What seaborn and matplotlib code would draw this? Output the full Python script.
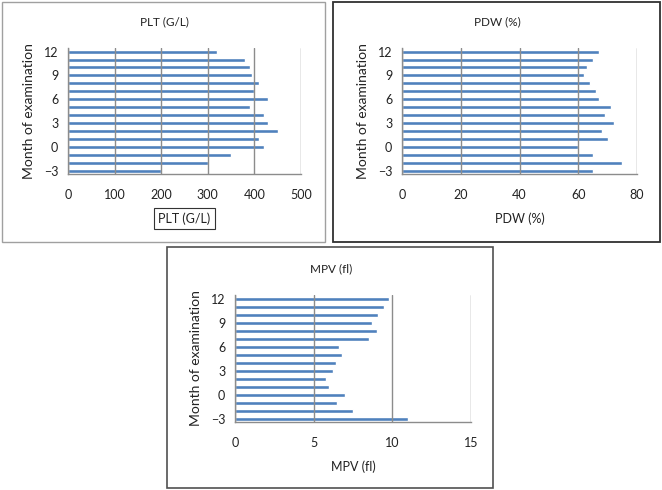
import matplotlib
matplotlib.use("Agg")
import matplotlib.pyplot as plt
import pandas as pd
import seaborn as sns
from matplotlib.patches import Rectangle

sns.set_theme(style="white")
plt.rcParams['font.family'] = ['Lato', 'DejaVu Sans']

months = list(range(-3, 13))
plt_values = [200, 300, 350, 420, 410, 450, 430, 420, 390, 430, 400, 410, 395, 390, 380, 320]
pdw_values = [65, 75, 65, 60, 70, 68, 72, 69, 71, 67, 66, 64, 62, 63, 65, 67]
mpv_values = [11.0, 7.5, 6.5, 7.0, 6.0, 5.8, 6.2, 6.4, 6.8, 6.6, 8.5, 9.0, 8.7, 9.1, 9.5, 9.8]

W, H = 662, 490
BLUE = '#4F81BD'
GRID = '#8c8c8c'


def px_rect(l, t, r, b):
    return [l / W, 1 - b / H, (r - l) / W, (b - t) / H]


fig = plt.figure(figsize=(W / 100, H / 100), dpi=100)

# panel frames
for (l, t, r, b), ec, lw in [((2, 2, 325, 242), '#a0a0a0', 1.0),
                             ((333, 2, 660, 242), '#303030', 1.3),
                             ((167, 247, 493, 488), '#505050', 1.2)]:
    fig.add_artist(Rectangle((l / W, 1 - b / H), (r - l) / W, (b - t) / H,
                             transform=fig.transFigure, fill=False, ec=ec, lw=lw))

panels = [
    ('PLT (G/L)', plt_values, (68, 48, 301, 174), 500, 100, 164, 22, True),
    ('PDW (%)', pdw_values, (402, 48, 637, 174), 80, 20, 497, 22, False),
    ('MPV (fl)', mpv_values, (235, 295, 471, 422), 15, 5, 331, 269, False),
]

for title, vals, box, xmax, step, tx, ty, boxed in panels:
    ax = fig.add_axes(px_rect(*box))
    df = pd.DataFrame({'month': months, 'value': vals})
    sns.barplot(data=df, x='value', y='month', orient='y', native_scale=True,
                color=BLUE, saturation=1, width=0.5, ax=ax)
    ax.set_xlim(0, xmax)
    ax.set_ylim(-3.4, 12.45)
    ax.set_xticks(range(0, xmax + 1, step))
    ax.set_yticks([-3, 0, 3, 6, 9, 12])
    ax.xaxis.grid(True, color=GRID, lw=1)
    ax.set_axisbelow(False)
    for s in ['top', 'right']:
        ax.spines[s].set_visible(False)
    for s in ['left', 'bottom']:
        ax.spines[s].set_color(GRID)
        ax.spines[s].set_linewidth(1)
    ax.tick_params(axis='both', length=0, labelsize=9, colors='#222222')
    ax.tick_params(axis='x', pad=11)
    ax.tick_params(axis='y', pad=7)
    ax.set_ylabel('Month of examination', fontsize=10, color='#222222', labelpad=6)
    xl = ax.set_xlabel(title, fontsize=9, color='#222222', labelpad=8)
    if boxed:
        xl.set_bbox(dict(boxstyle='square,pad=0.35', fc='white', ec='#333333', lw=0.8))
    fig.text(tx / W, 1 - ty / H, title, ha='center', va='center', fontsize=8.5, color='#222222')
    for p in ax.patches:
        p.set_zorder(1)
    for line in ax.get_xgridlines():
        line.set_zorder(0.5)

fig.savefig('out.png', dpi=100)
